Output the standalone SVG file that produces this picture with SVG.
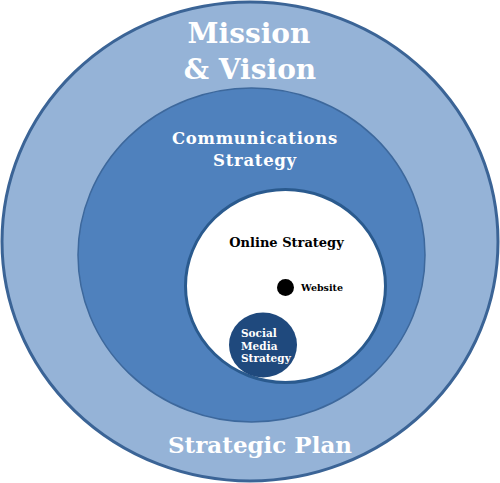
<svg xmlns="http://www.w3.org/2000/svg" width="500" height="483" viewBox="0 0 500 483">
<style>
text{font-family:"DejaVu Serif","Liberation Serif",serif;font-weight:bold;}
.w{fill:#ffffff;}
.k{fill:#000000;}
</style>
<rect width="500" height="483" fill="#ffffff"/>
<g id="strategic-plan">
<ellipse cx="250" cy="241.5" rx="248" ry="239.5" fill="#95b3d7" stroke="#3b6496" stroke-width="3"/>
<text class="w" x="249" y="43" font-size="28" text-anchor="middle">Mission</text>
<text class="w" x="250" y="79" font-size="28" text-anchor="middle">&amp; Vision</text>
<text class="w" x="260" y="453" font-size="23" text-anchor="middle">Strategic Plan</text>
</g>
<g id="communications-strategy">
<ellipse cx="251.5" cy="255" rx="173.5" ry="167" fill="#4f81bd" stroke="#3d689c" stroke-width="1.5"/>
<text class="w" x="255" y="144" font-size="16.5" letter-spacing="0.7" text-anchor="middle">Communications</text>
<text class="w" x="255" y="166" font-size="16.5" letter-spacing="0.7" text-anchor="middle">Strategy</text>
</g>
<g id="online-strategy">
<ellipse cx="285.5" cy="286" rx="100" ry="96.5" fill="#ffffff" stroke="#2a5a8e" stroke-width="3"/>
<text class="k" x="286.5" y="247" font-size="13" text-anchor="middle">Online Strategy</text>
</g>
<g id="website">
<circle cx="285.5" cy="287.5" r="8.5" fill="#000000"/>
<text class="k" x="301" y="291" font-size="9.5">Website</text>
</g>
<g id="social-media-strategy">
<ellipse cx="263" cy="345" rx="34" ry="32.5" fill="#1f497d"/>
<text class="w" x="241" y="337" font-size="10.5">Social</text>
<text class="w" x="241" y="349.5" font-size="10.5">Media</text>
<text class="w" x="241" y="362" font-size="10.5">Strategy</text>
</g>
<g id="connectors"></g>
</svg>
